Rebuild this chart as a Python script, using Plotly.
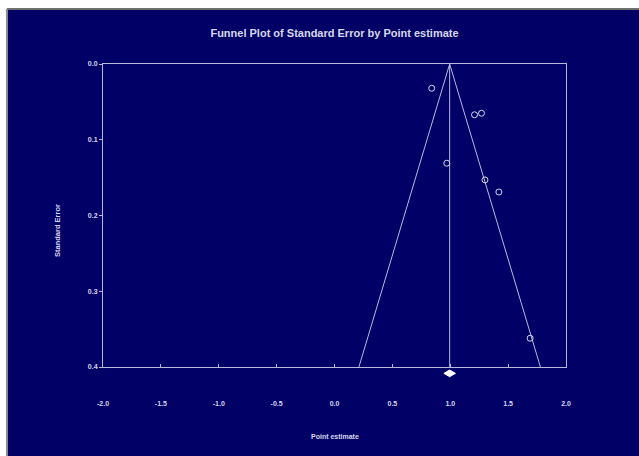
import plotly.graph_objects as go

# Study effects and their standard errors
point_estimate = [0.84, 1.21, 1.27, 0.97, 1.30, 1.42, 1.69]
standard_error = [0.032, 0.067, 0.065, 0.131, 0.153, 0.169, 0.362]

# Pooled effect and its confidence interval
pooled = 0.995
pooled_ci = [0.945, 1.045]
se_max = 0.4

x_ticks = [-2.0, -1.5, -1.0, -0.5, 0.0, 0.5, 1.0, 1.5, 2.0]
y_ticks = [0.0, 0.1, 0.2, 0.3, 0.4]

NAVY = "#000066"
INK = "#d8d8ec"
LINE = "#b8b8d8"
FONT = "Liberation Sans, Arial, sans-serif"

fig = go.Figure()

# Funnel (pseudo 95% limits) and vertical line at the pooled effect
fig.add_trace(go.Scatter(
    x=[pooled - 1.96 * se_max, pooled, pooled + 1.96 * se_max],
    y=[se_max, 0.0, se_max],
    mode="lines", line=dict(color=LINE, width=1), hoverinfo="skip",
))
fig.add_trace(go.Scatter(
    x=[pooled, pooled], y=[0.0, se_max],
    mode="lines", line=dict(color=LINE, width=1), hoverinfo="skip",
))

# Individual studies
fig.add_trace(go.Scatter(
    x=point_estimate, y=standard_error, mode="markers",
    marker=dict(symbol="circle-open", size=6, color=INK, line=dict(width=1)),
    cliponaxis=False,
))

shapes = []
# Summary diamond just below the axis
dy_c, dy_h = -0.021, 0.011
shapes.append(dict(
    type="path", xref="x", yref="paper",
    path=(f"M {pooled_ci[0]},{dy_c} L {pooled},{dy_c + dy_h} "
          f"L {pooled_ci[1]},{dy_c} L {pooled},{dy_c - dy_h} Z"),
    fillcolor="white", line=dict(color="white", width=1), layer="above",
))

# Page frame: white margin strips with a grey edge
shapes += [
    dict(type="rect", xref="paper", yref="paper", x0=-0.23, x1=1.2, y0=1.182, y1=1.22,
         fillcolor="white", line=dict(width=0), layer="below"),
    dict(type="rect", xref="paper", yref="paper", x0=-0.23, x1=-0.2075, y0=-0.3, y1=1.22,
         fillcolor="white", line=dict(width=0), layer="below"),
    dict(type="line", xref="paper", yref="paper", x0=-0.2075, x1=1.2, y0=1.1815, y1=1.1815,
         line=dict(color="#707070", width=2), layer="below"),
    dict(type="line", xref="paper", yref="paper", x0=-0.2075, x1=-0.2075, y0=-0.3, y1=1.1815,
         line=dict(color="#909090", width=2), layer="below"),
]

fig.update_layout(
    width=639, height=456,
    margin=dict(l=103, r=73, t=64, b=89),
    paper_bgcolor=NAVY, plot_bgcolor=NAVY,
    showlegend=False,
    font=dict(family=FONT, color=INK, size=7),
    title=dict(
        text="<b>Funnel Plot of Standard Error by Point estimate</b>",
        x=0.5, xref="paper", y=1 - 33 / 456, yref="container",
        xanchor="center", yanchor="middle",
        font=dict(family=FONT, size=11, color=INK),
    ),
    xaxis=dict(
        range=[-2.0, 2.0], tickvals=x_ticks,
        ticktext=[f"<b>{v:.1f}</b>" for v in x_ticks],
        showgrid=False, zeroline=False,
        showline=True, linecolor=LINE, linewidth=1, mirror=True,
        ticks="inside", ticklen=3, tickcolor=LINE,
        ticklabelstandoff=30,
        tickfont=dict(family=FONT, size=7, color=INK),
    ),
    yaxis=dict(
        range=[0.4, 0.0], tickvals=y_ticks,
        ticktext=[f"<b>{v:.1f}</b>" for v in y_ticks],
        showgrid=False, zeroline=False,
        showline=True, linecolor=LINE, linewidth=1, mirror=True,
        ticks="outside", ticklen=3, tickcolor=LINE,
        tickfont=dict(family=FONT, size=7, color=INK),
    ),
    shapes=shapes,
    annotations=[
        dict(text="<b>Point estimate</b>", xref="paper", yref="paper",
             x=0.5, y=-0.231, showarrow=False, xanchor="center", yanchor="middle",
             font=dict(family=FONT, size=7, color=INK)),
        dict(text="<b>Standard Error</b>", xref="paper", yref="paper",
             x=-0.0994, y=0.452, textangle=-90, showarrow=False,
             xanchor="center", yanchor="middle",
             font=dict(family=FONT, size=7.5, color=INK)),
    ],
)

fig.write_html("out.html")
